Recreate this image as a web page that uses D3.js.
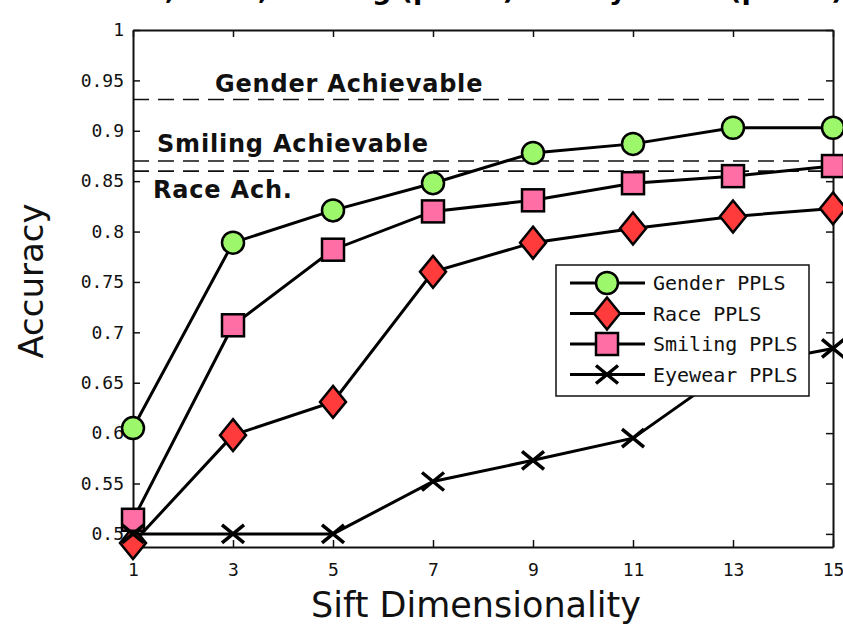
<!DOCTYPE html>
<html>
<head>
<meta charset="utf-8">
<script src="https://cdn.jsdelivr.net/npm/d3@7"></script>
<style>
  body { margin: 0; background: #fff; }
  svg { display: block; }
</style>
</head>
<body>
<svg width="843" height="627"></svg>
<script>
// sift dimensionality on the x axis
const dims = [1, 3, 5, 7, 9, 11, 13, 15];

// accuracy per series
const genderPPLS  = [0.605, 0.789, 0.821, 0.848, 0.878, 0.887, 0.903, 0.903];
const racePPLS    = [0.491, 0.598, 0.631, 0.760, 0.789, 0.803, 0.815, 0.823];
const smilingPPLS = [0.514, 0.707, 0.782, 0.820, 0.831, 0.848, 0.855, 0.865];
const eyewearPPLS = [0.500, 0.500, 0.500, 0.552, 0.573, 0.595, 0.665, 0.684];

// achievable accuracy (dashed reference lines)
const achievable = [
    { name: 'Gender Achievable', value: 0.931 },
    { name: 'Smiling Achievable', value: 0.870 },
    { name: 'Race Ach.', value: 0.860 }
];

// tick labels
const yTicks = [0.5, 0.55, 0.6, 0.65, 0.7, 0.75, 0.8, 0.85, 0.9, 0.95, 1];
const yTickLabels = ['0.5', '0.55', '0.6', '0.65', '0.7', '0.75', '0.8', '0.85', '0.9', '0.95', '1'];
const xTicks = dims;

const series = [
    { name: 'Gender PPLS', values: genderPPLS, marker: 'circle', fill: '#9cf76a' },
    { name: 'Race PPLS', values: racePPLS, marker: 'diamond', fill: '#ff3b3b' },
    { name: 'Smiling PPLS', values: smilingPPLS, marker: 'square', fill: '#ff6fa6' },
    { name: 'Eyewear PPLS', values: eyewearPPLS, marker: 'x', fill: 'none' }
];

const svg = d3.select('svg');

const x = d3.scaleLinear().domain([1, 15]).range([133, 833]);
const y = d3.scaleLinear().domain([0.487, 1]).range([547, 30]);

const tickFont = 'DejaVu Sans Mono, monospace';

// title, mostly cut off by the top edge (only descenders show)
svg.append('text')
    .attr('x', 58)
    .attr('y', -1)
    .attr('font-family', 'DejaVu Sans, sans-serif')
    .attr('font-weight', 'bold')
    .attr('font-size', 27)
    .text('Gender, Race, Smiling (pixels) and Eyewear (pixels)');

// dashed achievable lines
svg.selectAll('line.ach')
    .data(achievable)
    .enter().append('line')
    .attr('class', 'ach')
    .attr('x1', x(1)).attr('x2', x(15))
    .attr('y1', d => y(d.value)).attr('y2', d => y(d.value))
    .attr('stroke', '#111')
    .attr('stroke-width', 1.6)
    .attr('stroke-dasharray', '16,9');

// labels for the achievable lines
const achLabelPos = [
    { x: 215, y: 92 },
    { x: 157, y: 152 },
    { x: 153, y: 198 }
];
svg.selectAll('text.ach')
    .data(achievable)
    .enter().append('text')
    .attr('class', 'ach')
    .attr('x', (d, i) => achLabelPos[i].x)
    .attr('y', (d, i) => achLabelPos[i].y)
    .attr('font-family', 'DejaVu Sans, sans-serif')
    .attr('font-weight', 'bold')
    .attr('font-size', 24)
    .attr('letter-spacing', 0.8)
    .attr('fill', '#111')
    .text(d => d.name);

// axes with inward ticks, MATLAB style box
function styleAxis(g) {
    g.selectAll('path.domain').attr('stroke', '#111').attr('stroke-width', 2);
    g.selectAll('.tick line').attr('stroke', '#111').attr('stroke-width', 1.5);
    g.selectAll('.tick text')
        .attr('font-family', tickFont)
        .attr('font-size', 18)
        .attr('fill', '#111');
}

svg.append('g')
    .attr('transform', 'translate(' + x(1) + ',0)')
    .call(d3.axisLeft(y).tickValues(yTicks).tickSizeInner(-7).tickSizeOuter(0).tickPadding(9)
        .tickFormat((d, i) => yTickLabels[i]))
    .call(styleAxis);

svg.append('g')
    .attr('transform', 'translate(' + x(15) + ',0)')
    .call(d3.axisRight(y).tickValues(yTicks).tickSizeInner(-7).tickSizeOuter(0).tickFormat(''))
    .call(styleAxis);

svg.append('g')
    .attr('transform', 'translate(0,' + y.range()[0] + ')')
    .call(d3.axisBottom(x).tickValues(xTicks).tickSizeInner(-7).tickSizeOuter(0).tickPadding(16)
        .tickFormat(d3.format('d')))
    .call(styleAxis);

svg.append('g')
    .attr('transform', 'translate(0,' + y.range()[1] + ')')
    .call(d3.axisTop(x).tickValues(xTicks).tickSizeInner(-7).tickSizeOuter(0).tickFormat(''))
    .call(styleAxis);

// axis titles
svg.append('text')
    .attr('transform', 'translate(43,281) rotate(-90)')
    .attr('text-anchor', 'middle')
    .attr('font-family', 'DejaVu Sans, sans-serif')
    .attr('font-size', 34)
    .attr('fill', '#111')
    .text('Accuracy');

svg.append('text')
    .attr('x', 476)
    .attr('y', 617)
    .attr('text-anchor', 'middle')
    .attr('font-family', 'DejaVu Sans, sans-serif')
    .attr('font-size', 35)
    .attr('fill', '#111')
    .text('Sift Dimensionality');

// markers
function drawMarker(g, type, fill) {
    if (type === 'circle') {
        g.append('circle').attr('r', 11).attr('fill', fill).attr('stroke', '#000').attr('stroke-width', 2.5);
    } else if (type === 'square') {
        g.append('rect').attr('x', -11).attr('y', -11).attr('width', 22).attr('height', 22)
            .attr('fill', fill).attr('stroke', '#000').attr('stroke-width', 2.5);
    } else if (type === 'diamond') {
        g.append('path').attr('d', 'M0,-16L13,0L0,16L-13,0Z')
            .attr('fill', fill).attr('stroke', '#000').attr('stroke-width', 2.5);
    } else {
        g.append('path').attr('d', 'M-11,-9L11,9M-11,9L11,-9')
            .attr('stroke', '#000').attr('stroke-width', 3.5).attr('fill', 'none');
    }
}

const line = d3.line()
    .x((d, i) => x(dims[i]))
    .y(d => y(d));

series.forEach(function (s) {
    const g = svg.append('g');
    g.append('path')
        .attr('d', line(s.values))
        .attr('fill', 'none')
        .attr('stroke', '#000')
        .attr('stroke-width', 3);
    s.values.forEach(function (v, i) {
        const m = g.append('g').attr('transform', 'translate(' + x(dims[i]) + ',' + y(v) + ')');
        drawMarker(m, s.marker, s.fill);
    });
});

// legend
const legend = svg.append('g').attr('transform', 'translate(556,265)');
legend.append('rect')
    .attr('width', 253).attr('height', 131)
    .attr('fill', '#fff').attr('stroke', '#111').attr('stroke-width', 1.5);

series.forEach(function (s, i) {
    const row = legend.append('g').attr('transform', 'translate(0,' + (18 + i * 30.5) + ')');
    row.append('line')
        .attr('x1', 14).attr('x2', 89)
        .attr('stroke', '#000').attr('stroke-width', 3);
    drawMarker(row.append('g').attr('transform', 'translate(51,0)'), s.marker, s.fill);
    row.append('text')
        .attr('x', 97).attr('y', 7)
        .attr('font-family', tickFont)
        .attr('font-size', 20)
        .attr('fill', '#111')
        .text(s.name);
});
</script>
</body>
</html>
